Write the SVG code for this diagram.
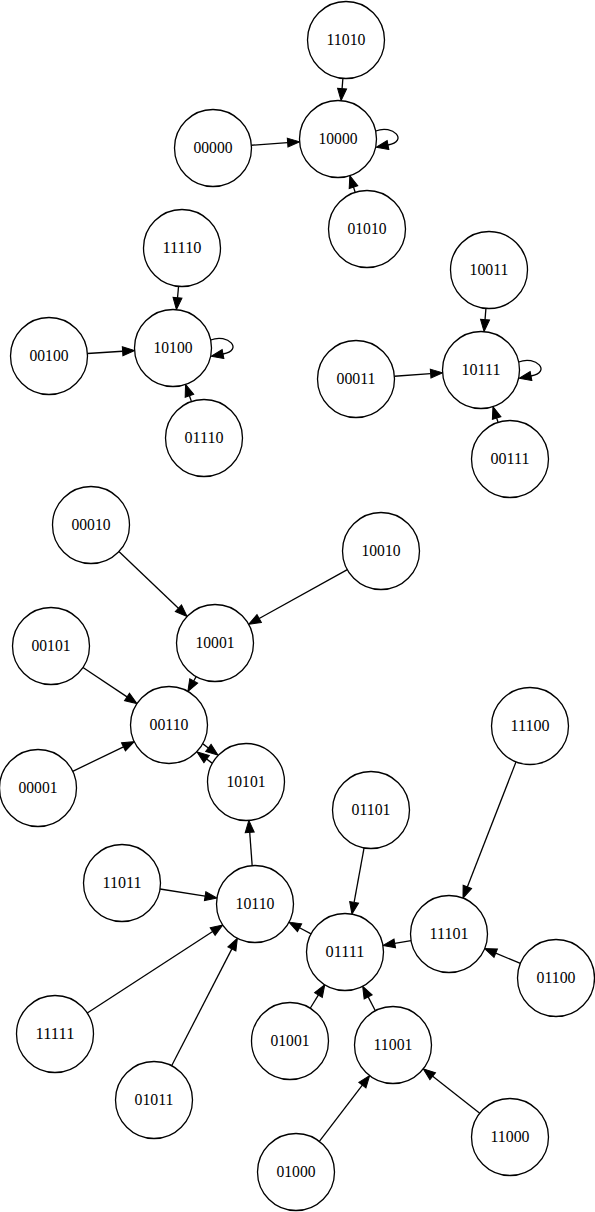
<svg xmlns="http://www.w3.org/2000/svg" width="595" height="1212" viewBox="0 0 595 1212">
<style>
.n circle{fill:#fff;stroke:#000;stroke-width:1.3}
.n text{font-family:"Liberation Serif","Times New Roman",serif;font-size:17.5px;text-anchor:middle;fill:#000}
.e path{fill:none;stroke:#000;stroke-width:1.3;marker-end:url(#ah)}
</style>
<defs>
<marker id="ah" markerUnits="userSpaceOnUse" markerWidth="12" markerHeight="9" refX="0" refY="4.5" orient="auto" overflow="visible">
<path d="M0,0 L12,4.5 L0,9 z" fill="#000" stroke="#000" stroke-width="1"/>
</marker>
</defs>
<rect width="595" height="1212" fill="#fff"/>
<g id="edges" class="e">
<path d="M342.9,78.4 L342.07,88.66"/>
<path d="M251.4,145.24 L287.63,142.63"/>
<path d="M355.19,192.36 L353.49,187.07"/>
<path d="M375.7,131 C393,124 409,141 388,145"/>
<path d="M178.55,286.35 L177.52,297.7"/>
<path d="M87.42,353.52 L122.61,351.25"/>
<path d="M191.46,401.6 L189.45,395.75"/>
<path d="M210.7,340 C228,333 244,350 223,354"/>
<path d="M485.93,308.38 L485.03,319.66"/>
<path d="M394.4,376.24 L430.63,373.63"/>
<path d="M498.07,422.39 L496.65,418.02"/>
<path d="M518.7,362 C536,355 552,372 531,376"/>
<path d="M118.89,551.54 L178.42,608.19"/>
<path d="M347.33,569.66 L259.17,618.52"/>
<path d="M196.16,676.58 L193.71,680.95"/>
<path d="M82.99,667.42 L127.03,696.91"/>
<path d="M72.7,771.31 L123.49,746.89"/>
<path d="M202.93,743.89 L208.38,747.93"/>
<path d="M212.07,763.11 L206.62,759.07"/>
<path d="M252.17,865.6 L249.72,832.36"/>
<path d="M160.03,889 L205.12,896.12"/>
<path d="M87.28,1013.02 L212.66,931.52"/>
<path d="M171.64,1065.78 L231.87,948.89"/>
<path d="M311.03,933.88 L299.56,927.77"/>
<path d="M364.07,847.87 L354.1,902.32"/>
<path d="M411.07,940.56 L394.76,943.39"/>
<path d="M516.03,761.88 L467.33,886.94"/>
<path d="M520.39,963.36 L495.71,953.21"/>
<path d="M310.24,1008.25 L318.45,994.96"/>
<path d="M375.34,1010.79 L368.16,996.87"/>
<path d="M319.37,1141.4 L362.35,1085.13"/>
<path d="M479.74,1113.2 L432.7,1076.21"/>
</g>
<g id="n11010" class="n"><circle cx="346" cy="40" r="38.5"/><text x="346" y="45" textLength="39" lengthAdjust="spacingAndGlyphs">11010</text></g>
<g id="n10000" class="n"><circle cx="338" cy="139" r="38.5"/><text x="338" y="144" textLength="39" lengthAdjust="spacingAndGlyphs">10000</text></g>
<g id="n00000" class="n"><circle cx="213" cy="148" r="38.5"/><text x="213" y="153" textLength="39" lengthAdjust="spacingAndGlyphs">00000</text></g>
<g id="n01010" class="n"><circle cx="367" cy="229" r="38.5"/><text x="367" y="234" textLength="39" lengthAdjust="spacingAndGlyphs">01010</text></g>
<g id="n11110" class="n"><circle cx="182" cy="248" r="38.5"/><text x="182" y="253" textLength="39" lengthAdjust="spacingAndGlyphs">11110</text></g>
<g id="n10100" class="n"><circle cx="173" cy="348" r="38.5"/><text x="173" y="353" textLength="39" lengthAdjust="spacingAndGlyphs">10100</text></g>
<g id="n00100" class="n"><circle cx="49" cy="356" r="38.5"/><text x="49" y="361" textLength="39" lengthAdjust="spacingAndGlyphs">00100</text></g>
<g id="n01110" class="n"><circle cx="204" cy="438" r="38.5"/><text x="204" y="443" textLength="39" lengthAdjust="spacingAndGlyphs">01110</text></g>
<g id="n10011" class="n"><circle cx="489" cy="270" r="38.5"/><text x="489" y="275" textLength="39" lengthAdjust="spacingAndGlyphs">10011</text></g>
<g id="n10111" class="n"><circle cx="481" cy="370" r="38.5"/><text x="481" y="375" textLength="39" lengthAdjust="spacingAndGlyphs">10111</text></g>
<g id="n00011" class="n"><circle cx="356" cy="379" r="38.5"/><text x="356" y="384" textLength="39" lengthAdjust="spacingAndGlyphs">00011</text></g>
<g id="n00111" class="n"><circle cx="510" cy="459" r="38.5"/><text x="510" y="464" textLength="39" lengthAdjust="spacingAndGlyphs">00111</text></g>
<g id="n00010" class="n"><circle cx="91" cy="525" r="38.5"/><text x="91" y="530" textLength="39" lengthAdjust="spacingAndGlyphs">00010</text></g>
<g id="n10010" class="n"><circle cx="381" cy="551" r="38.5"/><text x="381" y="556" textLength="39" lengthAdjust="spacingAndGlyphs">10010</text></g>
<g id="n10001" class="n"><circle cx="215" cy="643" r="38.5"/><text x="215" y="648" textLength="39" lengthAdjust="spacingAndGlyphs">10001</text></g>
<g id="n00101" class="n"><circle cx="51" cy="646" r="38.5"/><text x="51" y="651" textLength="39" lengthAdjust="spacingAndGlyphs">00101</text></g>
<g id="n00110" class="n"><circle cx="169" cy="725" r="38.5"/><text x="169" y="730" textLength="39" lengthAdjust="spacingAndGlyphs">00110</text></g>
<g id="n00001" class="n"><circle cx="38" cy="788" r="38.5"/><text x="38" y="793" textLength="39" lengthAdjust="spacingAndGlyphs">00001</text></g>
<g id="n10101" class="n"><circle cx="246" cy="782" r="38.5"/><text x="246" y="787" textLength="39" lengthAdjust="spacingAndGlyphs">10101</text></g>
<g id="n11100" class="n"><circle cx="530" cy="726" r="38.5"/><text x="530" y="731" textLength="39" lengthAdjust="spacingAndGlyphs">11100</text></g>
<g id="n01101" class="n"><circle cx="371" cy="810" r="38.5"/><text x="371" y="815" textLength="39" lengthAdjust="spacingAndGlyphs">01101</text></g>
<g id="n11011" class="n"><circle cx="122" cy="883" r="38.5"/><text x="122" y="888" textLength="39" lengthAdjust="spacingAndGlyphs">11011</text></g>
<g id="n10110" class="n"><circle cx="255" cy="904" r="38.5"/><text x="255" y="909" textLength="39" lengthAdjust="spacingAndGlyphs">10110</text></g>
<g id="n01111" class="n"><circle cx="345" cy="952" r="38.5"/><text x="345" y="957" textLength="39" lengthAdjust="spacingAndGlyphs">01111</text></g>
<g id="n11101" class="n"><circle cx="449" cy="934" r="38.5"/><text x="449" y="939" textLength="39" lengthAdjust="spacingAndGlyphs">11101</text></g>
<g id="n01100" class="n"><circle cx="556" cy="978" r="38.5"/><text x="556" y="983" textLength="39" lengthAdjust="spacingAndGlyphs">01100</text></g>
<g id="n11111" class="n"><circle cx="55" cy="1034" r="38.5"/><text x="55" y="1039" textLength="39" lengthAdjust="spacingAndGlyphs">11111</text></g>
<g id="n01001" class="n"><circle cx="290" cy="1041" r="38.5"/><text x="290" y="1046" textLength="39" lengthAdjust="spacingAndGlyphs">01001</text></g>
<g id="n11001" class="n"><circle cx="393" cy="1045" r="38.5"/><text x="393" y="1050" textLength="39" lengthAdjust="spacingAndGlyphs">11001</text></g>
<g id="n01011" class="n"><circle cx="154" cy="1100" r="38.5"/><text x="154" y="1105" textLength="39" lengthAdjust="spacingAndGlyphs">01011</text></g>
<g id="n11000" class="n"><circle cx="510" cy="1137" r="38.5"/><text x="510" y="1142" textLength="39" lengthAdjust="spacingAndGlyphs">11000</text></g>
<g id="n01000" class="n"><circle cx="296" cy="1172" r="38.5"/><text x="296" y="1177" textLength="39" lengthAdjust="spacingAndGlyphs">01000</text></g>
</svg>
